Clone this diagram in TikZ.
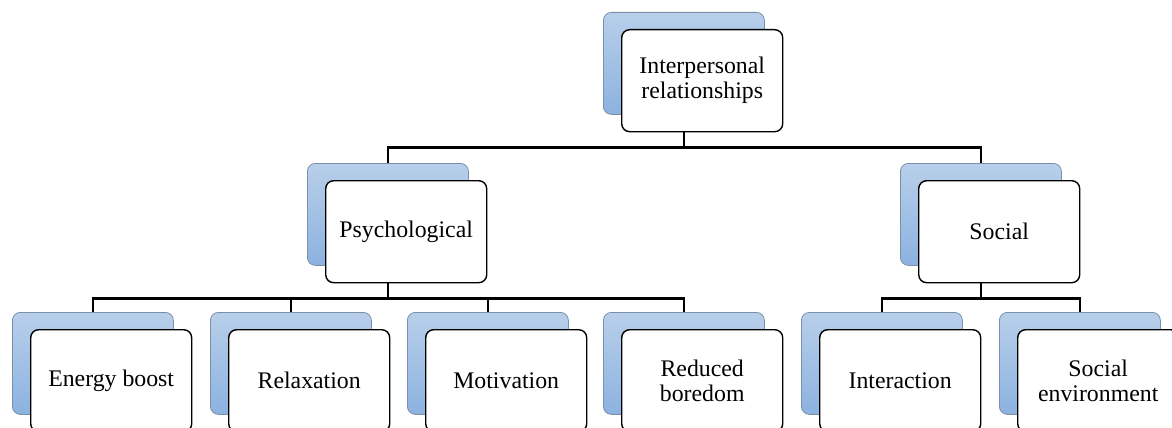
\documentclass[tikz,border=0pt]{standalone}
\usepackage{fontspec}
\setmainfont{Liberation Serif}
\definecolor{cardtop}{HTML}{B8CFEA}
\definecolor{cardbot}{HTML}{8CB2E0}
\definecolor{cardline}{HTML}{7A8FA8}
\tikzset{
  backcard/.style={draw=cardline, line width=0.8pt, top color=cardtop, bottom color=cardbot,
    rounded corners=8pt, minimum width=161pt, minimum height=102pt, inner sep=0pt, anchor=north west},
  frontcard/.style={draw=black, line width=1.4pt, fill=white, rounded corners=8pt,
    minimum width=161pt, minimum height=102pt, inner sep=0pt, anchor=north west,
    align=center, font=\fontsize{23.8}{25}\selectfont},
  link/.style={line width=2.8pt}
}
% blue card behind, white card in front: name, x, y, text
\newcommand{\card}[4]{%
  \node[backcard] (#1b) at (#2,#3) {};
  \node[frontcard] (#1) at (#2+18,#3+17) {#4};}
\begin{document}
\begin{tikzpicture}[x=1pt,y=-1pt]
  \useasboundingbox (0,0) rectangle (1172,428);
  \card{top}{603}{12}{Interpersonal\\relationships}
  \card{psy}{307}{163}{Psychological}
  \card{soc}{900}{163}{Social}
  \foreach \nm/\xx/\txt in {energy/12/Energy boost, relax/210/Relaxation, motiv/407/Motivation,
      bored/603/Reduced\\boredom, inter/801/Interaction, envir/999/Social\\environment}{
    \card{\nm}{\xx}{312}{\txt}
  }
  % connectors
  \foreach \kid in {psy,soc}
    \draw[link] (topb.center |- top.south) -- ++(0,15) -| (\kid b.north);
  \foreach \kid in {energy,relax,motiv,bored}
    \draw[link] (psyb.center |- psy.south) -- ++(0,15) -| (\kid b.north);
  \foreach \kid in {inter,envir}
    \draw[link] (socb.center |- soc.south) -- ++(0,15) -| (\kid b.north);
\end{tikzpicture}
\end{document}
